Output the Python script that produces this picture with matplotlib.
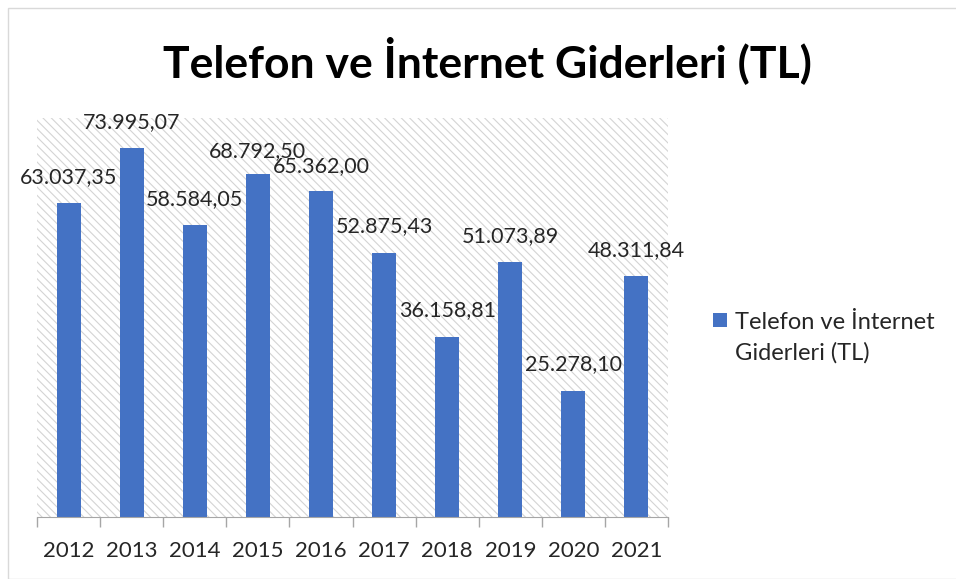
import matplotlib
matplotlib.use("Agg")
import matplotlib.pyplot as plt
from matplotlib.patches import Rectangle

# Veriler
years = ["2012", "2013", "2014", "2015", "2016", "2017", "2018", "2019", "2020", "2021"]
values = [63037.35, 73995.07, 58584.05, 68792.50, 65362.00, 52875.43, 36158.81, 51073.89, 25278.10, 48311.84]
label_offsets = [26, 26, 26, 23, 25, 27, 27, 26, 27, 26]  # piksel, Excel'in etiket yerleşimi
series_name = "Telefon ve İnternet Giderleri (TL)"


def tr_format(v):
    s = f"{v:,.2f}"
    return s.replace(",", "X").replace(".", ",").replace("X", ".")


plt.rcParams["font.family"] = ["Lato", "DejaVu Sans"]
plt.rcParams["hatch.linewidth"] = 0.8

W, H = 956, 579
fig = plt.figure(figsize=(W / 100, H / 100), dpi=100)
ax = fig.add_axes([37 / W, 1 - 517 / H, 631 / W, 399 / H])

# Dış çerçeve
fig.patches.append(Rectangle((8 / W, 0), 1, 1 - 8 / H, transform=fig.transFigure,
                             fill=False, edgecolor="#d9d9d9", linewidth=1))

# Taralı arka plan
ax.set_facecolor("white")
ax.add_patch(Rectangle((0, 0), 1, 1, transform=ax.transAxes, facecolor="white",
                       edgecolor="#d4d4d4", hatch="\\\\\\\\", linewidth=0, zorder=0))

x = range(len(years))
bars = ax.bar(x, values, width=0.38, color="#4472c4", zorder=2)

for xi, v, off in zip(x, values, label_offsets):
    ax.annotate(tr_format(v), (xi, v), xytext=(0, off * 0.72), textcoords="offset points",
                ha="center", va="center", fontsize=15.5, color="#262626", zorder=3)

ax.set_xlim(-0.5, 9.5)
ax.set_ylim(0, 80000)
ax.set_yticks([])
ax.set_xticks(list(x))
ax.set_xticklabels(years, fontsize=16, color="#262626")
ax.set_xticks([i - 0.5 for i in range(len(years) + 1)], minor=True)
ax.tick_params(axis="x", which="major", length=0, pad=17)
ax.tick_params(axis="x", which="minor", length=7, color="#a6a6a6", width=1)
for side in ["top", "right", "left"]:
    ax.spines[side].set_visible(False)
ax.spines["bottom"].set_color("#a6a6a6")

fig.text(487 / W, 1 - 60 / H, series_name, ha="center", va="center",
         fontsize=32, fontweight="bold", color="black")

# Lejant (Excel tarzı: kare ilk satırla hizalı)
fig.patches.append(Rectangle((713 / W, 1 - 327 / H), 14 / W, 14 / H, transform=fig.transFigure,
                             facecolor="#4472c4", edgecolor="none"))
fig.text(735 / W, 1 - 322 / H, "Telefon ve İnternet", ha="left", va="center",
         fontsize=17, color="#262626")
fig.text(735 / W, 1 - 353 / H, "Giderleri (TL)", ha="left", va="center",
         fontsize=17, color="#262626")

fig.savefig("out.png", dpi=100)
